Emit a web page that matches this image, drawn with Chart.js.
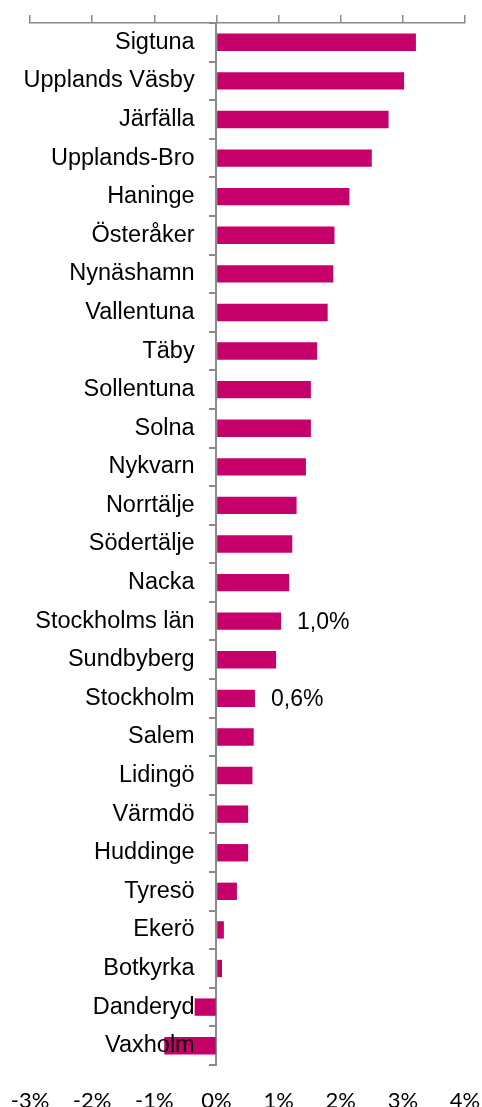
<!DOCTYPE html>
<html>
<head>
<meta charset="utf-8">
<script src="https://cdn.jsdelivr.net/npm/chart.js@4"></script>
<style>
  html, body { margin: 0; padding: 0; background: #fff; }
  #wrap { width: 482px; height: 1107px; }
</style>
</head>
<body>
<div id="wrap"><canvas id="barChart"></canvas></div>
<script>
const municipalities = [
    'Sigtuna', 'Upplands Väsby', 'Järfälla', 'Upplands-Bro', 'Haninge', 'Österåker',
    'Nynäshamn', 'Vallentuna', 'Täby', 'Sollentuna', 'Solna', 'Nykvarn', 'Norrtälje',
    'Södertälje', 'Nacka', 'Stockholms län', 'Sundbyberg', 'Stockholm', 'Salem',
    'Lidingö', 'Värmdö', 'Huddinge', 'Tyresö', 'Ekerö', 'Botkyrka', 'Danderyd', 'Vaxholm'
];
const growth = [
    3.21, 3.02, 2.77, 2.50, 2.14, 1.90,
    1.88, 1.79, 1.62, 1.52, 1.52, 1.44, 1.29,
    1.22, 1.17, 1.04, 0.96, 0.62, 0.60,
    0.58, 0.51, 0.51, 0.33, 0.12, 0.09, -0.35, -0.84
];
// only two bars carry a value label
const valueLabels = {'Stockholms län': '1,0%', 'Stockholm': '0,6%'};
const xTicks = [-3, -2, -1, 0, 1, 2, 3, 4];

const barColor = '#c5006a';
const axisGray = '#8a8a8a';
const labelFont = '"Liberation Sans", Arial, sans-serif';

// draw the "1,0%" / "0,6%" labels right of their bars
const valueLabelPlugin = {
    id: 'valueLabels',
    afterDatasetsDraw(chart) {
        const ctx = chart.ctx;
        const meta = chart.getDatasetMeta(0);
        ctx.save();
        ctx.font = '23px ' + labelFont;
        ctx.fillStyle = '#000';
        ctx.textAlign = 'left';
        ctx.textBaseline = 'middle';
        meta.data.forEach((bar, i) => {
            const txt = valueLabels[municipalities[i]];
            if (txt) ctx.fillText(txt, bar.x + 16, bar.y + 1);
        });
        ctx.restore();
    }
};

new Chart(document.getElementById('barChart'), {
    type: 'bar',
    data: {
        labels: municipalities,
        datasets: [{
            data: growth,
            backgroundColor: barColor,
            borderWidth: 0,
            barPercentage: 0.45,
            categoryPercentage: 1
        }]
    },
    options: {
        indexAxis: 'y',
        responsive: true,
        maintainAspectRatio: false,
        animation: false,
        layout: { autoPadding: false, padding: { left: 30, right: 17, top: 15, bottom: 0 } },
        scales: {
            x: {
                position: 'top',
                min: -3,
                max: 4,
                afterBuildTicks: (scale) => { scale.ticks = xTicks.map(v => ({value: v})); },
                afterFit: (scale) => { scale.height = 8; },
                ticks: { display: false },
                grid: { drawOnChartArea: false, tickLength: 8, color: axisGray, lineWidth: 1.5 },
                border: { color: axisGray, width: 1.5 }
            },
            x2: {
                type: 'linear',
                position: 'bottom',
                min: -3,
                max: 4,
                afterBuildTicks: (scale) => { scale.ticks = xTicks.map(v => ({value: v})); },
                afterFit: (scale) => { scale.height = 42; },
                ticks: {
                    callback: (v) => v + '%',
                    color: '#000',
                    padding: 0,
                    maxRotation: 0,
                    font: { family: 'Lato, "Open Sans", sans-serif', size: 22 }
                },
                // invisible tick length just pushes the labels down
                grid: { display: false, drawTicks: true, tickLength: 23 },
                border: { display: false }
            },
            // zero line with the short category ticks
            y: {
                position: { x: 0 },
                afterFit: (scale) => { scale.width = 0; },
                ticks: { display: false },
                grid: { drawOnChartArea: false, offset: true, tickLength: 6, color: axisGray, lineWidth: 2 },
                border: { color: axisGray, width: 2 }
            },
            // category names, set a little left of zero and drawn above the bars
            yNames: {
                type: 'category',
                axis: 'y',
                offset: true,
                position: { x: -0.35 },
                afterFit: (scale) => { scale.width = 0; },
                ticks: {
                    z: 1,
                    color: '#000',
                    padding: 0,
                    autoSkip: false,
                    font: { family: labelFont, size: 23.5 }
                },
                grid: { display: false, drawTicks: false },
                border: { display: false }
            }
        },
        plugins: {
            legend: { display: false },
            tooltip: { enabled: false }
        }
    },
    plugins: [valueLabelPlugin]
});
</script>
</body>
</html>
